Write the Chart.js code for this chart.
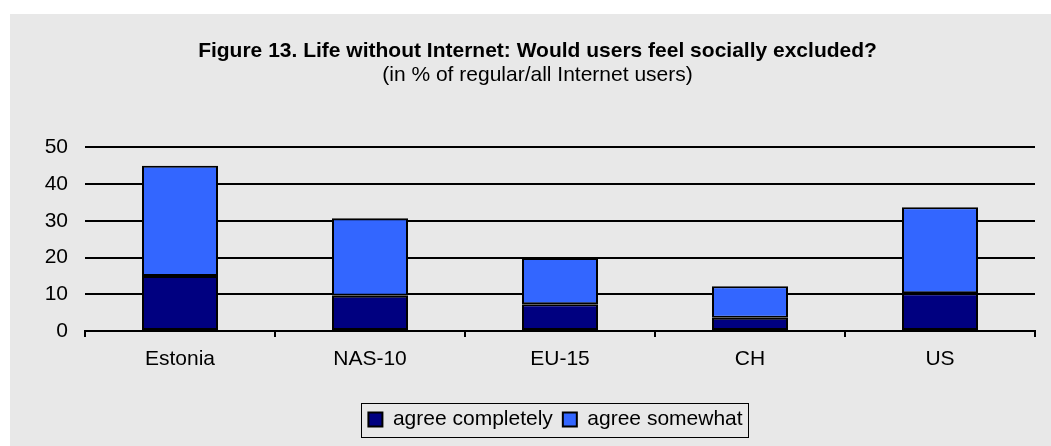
<!DOCTYPE html>
<html>
<head>
<meta charset="utf-8">
<script src="https://cdn.jsdelivr.net/npm/chart.js@4"></script>
<style>
  html, body { margin: 0; padding: 0; background: #ffffff; }
  #wrap { position: absolute; left: 10px; top: 14px; width: 1041px; height: 432px; background: #e8e8e8; }
</style>
</head>
<body>
<div id="wrap"><canvas id="excluded" width="1041" height="432"></canvas></div>
<script>
const categories = ['Estonia', 'NAS-10', 'EU-15', 'CH', 'US'];
const agreeCompletely = [15, 9.6, 7.3, 3.6, 10.3];
const agreeSomewhat = [30, 21.1, 12.6, 8.6, 23.4];
const yTicks = [0, 10, 20, 30, 40, 50];

const FONT = '"Liberation Sans", Arial, sans-serif';
const LEGEND_SHIFT = 18;

// nudge the legend right of centre and put a frame around it
const legendFrame = {
  id: 'legendFrame',
  afterLayout(chart) {
    chart.legend.left += LEGEND_SHIFT;
    chart.legend.right += LEGEND_SHIFT;
  },
  afterDraw(chart) {
    const boxes = chart.legend.legendHitBoxes;
    if (!boxes || !boxes.length) return;
    let l = Infinity, r = -Infinity, t = Infinity, b = -Infinity;
    boxes.forEach(h => {
      l = Math.min(l, h.left); r = Math.max(r, h.left + h.width);
      t = Math.min(t, h.top); b = Math.max(b, h.top + h.height);
    });
    const ctx = chart.ctx;
    ctx.save();
    ctx.strokeStyle = '#000';
    ctx.lineWidth = 1;
    ctx.strokeRect(Math.round(l - 7) + 0.5, Math.round(t - 6) + 0.5, Math.round(r - l + 13), Math.round(b - t + 13));
    ctx.restore();
  }
};

new Chart(document.getElementById('excluded'), {
  type: 'bar',
  data: {
    labels: categories,
    datasets: [{
      label: 'agree completely',
      data: agreeCompletely,
      backgroundColor: '#000080',
      borderColor: '#000000',
      borderWidth: 2,
      borderSkipped: false
    }, {
      label: 'agree somewhat',
      data: agreeSomewhat,
      backgroundColor: '#3366ff',
      borderColor: '#000000',
      borderWidth: 2,
      borderSkipped: false
    }]
  },
  options: {
    responsive: false,
    animation: false,
    categoryPercentage: 0.4,
    barPercentage: 1,
    layout: { padding: { left: 30, right: 16, top: 0, bottom: 6 } },
    plugins: {
      title: {
        display: true,
        text: 'Figure 13. Life without Internet: Would users feel socially excluded?',
        color: '#000',
        font: { family: FONT, size: 21, weight: 'bold', lineHeight: 1.15 },
        padding: { top: 25, bottom: 0 }
      },
      subtitle: {
        display: true,
        text: '(in % of regular/all Internet users)',
        color: '#000',
        font: { family: FONT, size: 21, lineHeight: 1.15 },
        padding: { top: 0, bottom: 60 }
      },
      legend: {
        position: 'bottom',
        labels: {
          color: '#000',
          font: { family: FONT, size: 21 },
          boxWidth: 14,
          boxHeight: 14,
          padding: 10
        }
      },
      tooltip: { enabled: false }
    },
    scales: {
      x: {
        stacked: true,
        afterFit(axis) { axis.height = 68; },
        grid: { display: true, drawOnChartArea: false, drawTicks: true, tickLength: 6, color: '#000', lineWidth: 2 },
        border: { display: true, color: '#000', width: 2 },
        ticks: { color: '#000', font: { family: FONT, size: 21 }, padding: 10 }
      },
      y: {
        stacked: true,
        min: 0,
        max: 50,
        afterBuildTicks(axis) { axis.ticks = yTicks.map(v => ({ value: v })); },
        afterFit(axis) { axis.width = 45; },
        grid: { color: '#000', lineWidth: 2, drawTicks: false },
        border: { display: false },
        ticks: { color: '#000', font: { family: FONT, size: 21 }, padding: 17 }
      }
    }
  },
  plugins: [legendFrame]
});
</script>
</body>
</html>
